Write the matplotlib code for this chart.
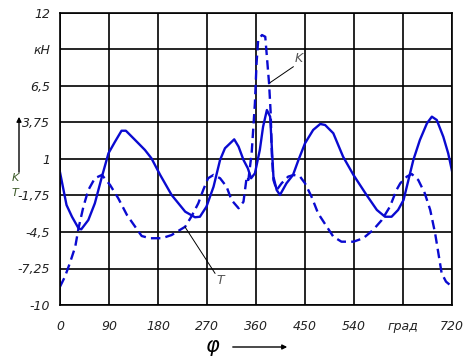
import matplotlib
matplotlib.use("Agg")
import matplotlib.pyplot as plt

# данные
phi_t = [0, 12, 22, 34, 39, 52, 64, 77, 89, 101, 113, 121, 138, 156, 168, 184, 205, 230, 248,
         257, 269, 282, 294, 303, 320, 328, 337, 345, 351, 358, 367, 373, 380, 386, 389, 392,
         398, 404, 416, 428, 438, 450, 465, 478, 487, 502, 520, 539, 563, 582, 597, 609, 621,
         631, 640, 649, 661, 674, 683, 692, 704, 713, 720]
t_vals = [0.0, -2.47, -3.35, -4.22, -4.3, -3.6, -2.34, -0.33, 1.43, 2.3, 3.13, 3.13, 2.43, 1.68,
          1.05, -0.2, -1.71, -2.97, -3.39, -3.35, -2.59, -1.09, 0.93, 1.81, 2.48, 1.93, 0.93,
          0.3, -0.45, -0.08, 1.68, 3.43, 4.69, 4.19, 1.93, -0.33, -1.34, -1.71, -0.83, -0.2,
          0.93, 2.18, 3.19, 3.64, 3.56, 2.94, 1.17, -0.2, -1.71, -2.84, -3.35, -3.35, -2.84,
          -2.09, -0.58, 0.93, 2.43, 3.69, 4.19, 3.94, 2.68, 1.43, 0.1]

phi_k = [0, 9, 18, 28, 34, 43, 52, 64, 77, 92, 107, 123, 138, 150, 165, 187, 205, 230, 242,
         254, 263, 272, 282, 294, 306, 315, 328, 337, 343, 346, 352, 358, 361, 364, 371, 377,
         380, 384, 387, 389, 392, 398, 407, 419, 429, 441, 450, 462, 474, 484, 502, 517, 539,
         557, 575, 591, 606, 618, 625, 637, 646, 658, 670, 680, 689, 695, 701, 709, 720]
k_vals = [-8.62, -7.87, -6.86, -5.61, -4.22, -2.59, -1.34, -0.45, -0.2, -0.96, -1.96, -3.22,
          -4.1, -4.8, -4.97, -4.97, -4.73, -4.1, -3.29, -2.34, -1.34, -0.45, -0.2, -0.45,
          -1.09, -2.09, -2.71, -2.22, -0.33, -0.58, 1.43, 5.2, 8.21, 9.97, 10.34, 10.21, 8.71,
          6.7, 4.44, 1.43, -0.58, -1.34, -0.83, -0.33, -0.2, -0.33, -0.83, -1.84, -3.09,
          -3.72, -4.85, -5.23, -5.23, -4.97, -4.35, -3.6, -2.59, -1.34, -0.83, -0.33, -0.13,
          -0.58, -1.58, -2.84, -4.6, -6.1, -7.61, -8.24, -8.62]

x_ticks = [0, 90, 180, 270, 360, 450, 540, 630, 720]
x_labels = ["0", "90", "180", "270", "360", "450", "540", "град", "720"]
y_ticks = [12, 9.25, 6.5, 3.75, 1, -1.75, -4.5, -7.25, -10]
y_labels = ["12", "кН", "6,5", "3,75", "1", "-1,75", "-4,5", "-7,25", "-10"]

fnt = ["Liberation Sans Narrow", "DejaVu Sans"]
blue = "#0a0ad0"

fig = plt.figure(figsize=(4.7, 3.58), dpi=100)
ax = fig.add_axes([60 / 470, 1 - 305 / 358, 392 / 470, 292 / 358])

ax.plot(phi_t, t_vals, color=blue, lw=1.7)
ax.plot(phi_k, k_vals, color=blue, lw=1.7, linestyle=(0, (4, 2.2)))

ax.set_xlim(0, 720)
ax.set_ylim(-10, 12)
ax.set_xticks(x_ticks)
ax.set_xticklabels(x_labels, fontstyle="italic", family=fnt, fontsize=9, color="#222222")
ax.set_yticks(y_ticks)
ax.set_yticklabels(y_labels, fontstyle="italic", family=fnt, fontsize=9, color="#222222")
ax.tick_params(axis="x", length=0, pad=11)
ax.tick_params(axis="y", length=0, pad=7)
ax.grid(True, color="black", lw=1.2)
for s in ax.spines.values():
    s.set_linewidth(1.2)

# выноски
ax.plot([385.7, 428.5], [6.75, 7.95], color="black", lw=0.7)
ax.text(431, 8.3, "K", fontstyle="italic", family=fnt, fontsize=9, color="#555555")
ax.plot([229.6, 284.7], [-4.12, -7.61], color="black", lw=0.7)
ax.text(287, -8.4, "T", fontstyle="italic", family=fnt, fontsize=9, color="#555555")

# подписи осей
fig.text(213 / 470, 1 - 346 / 358, "φ", fontstyle="italic", fontsize=15,
         ha="center", va="center")
fig.add_artist(matplotlib.patches.FancyArrowPatch(
    (230 / 470, 1 - 347 / 358), (290 / 470, 1 - 347 / 358), transform=fig.transFigure,
    arrowstyle="-|>", mutation_scale=7, color="black", lw=1))
fig.add_artist(matplotlib.patches.FancyArrowPatch(
    (19 / 470, 1 - 175 / 358), (19 / 470, 1 - 114 / 358), transform=fig.transFigure,
    arrowstyle="-|>", mutation_scale=7, color="black", lw=1))
fig.text(15 / 470, 1 - 178 / 358, "K", fontstyle="italic", family=fnt, fontsize=8,
         color="#3c5a28", ha="center", va="center")
fig.text(15 / 470, 1 - 193 / 358, "T", fontstyle="italic", family=fnt, fontsize=8,
         color="#3c5a28", ha="center", va="center")

fig.savefig("out.png", dpi=100)
